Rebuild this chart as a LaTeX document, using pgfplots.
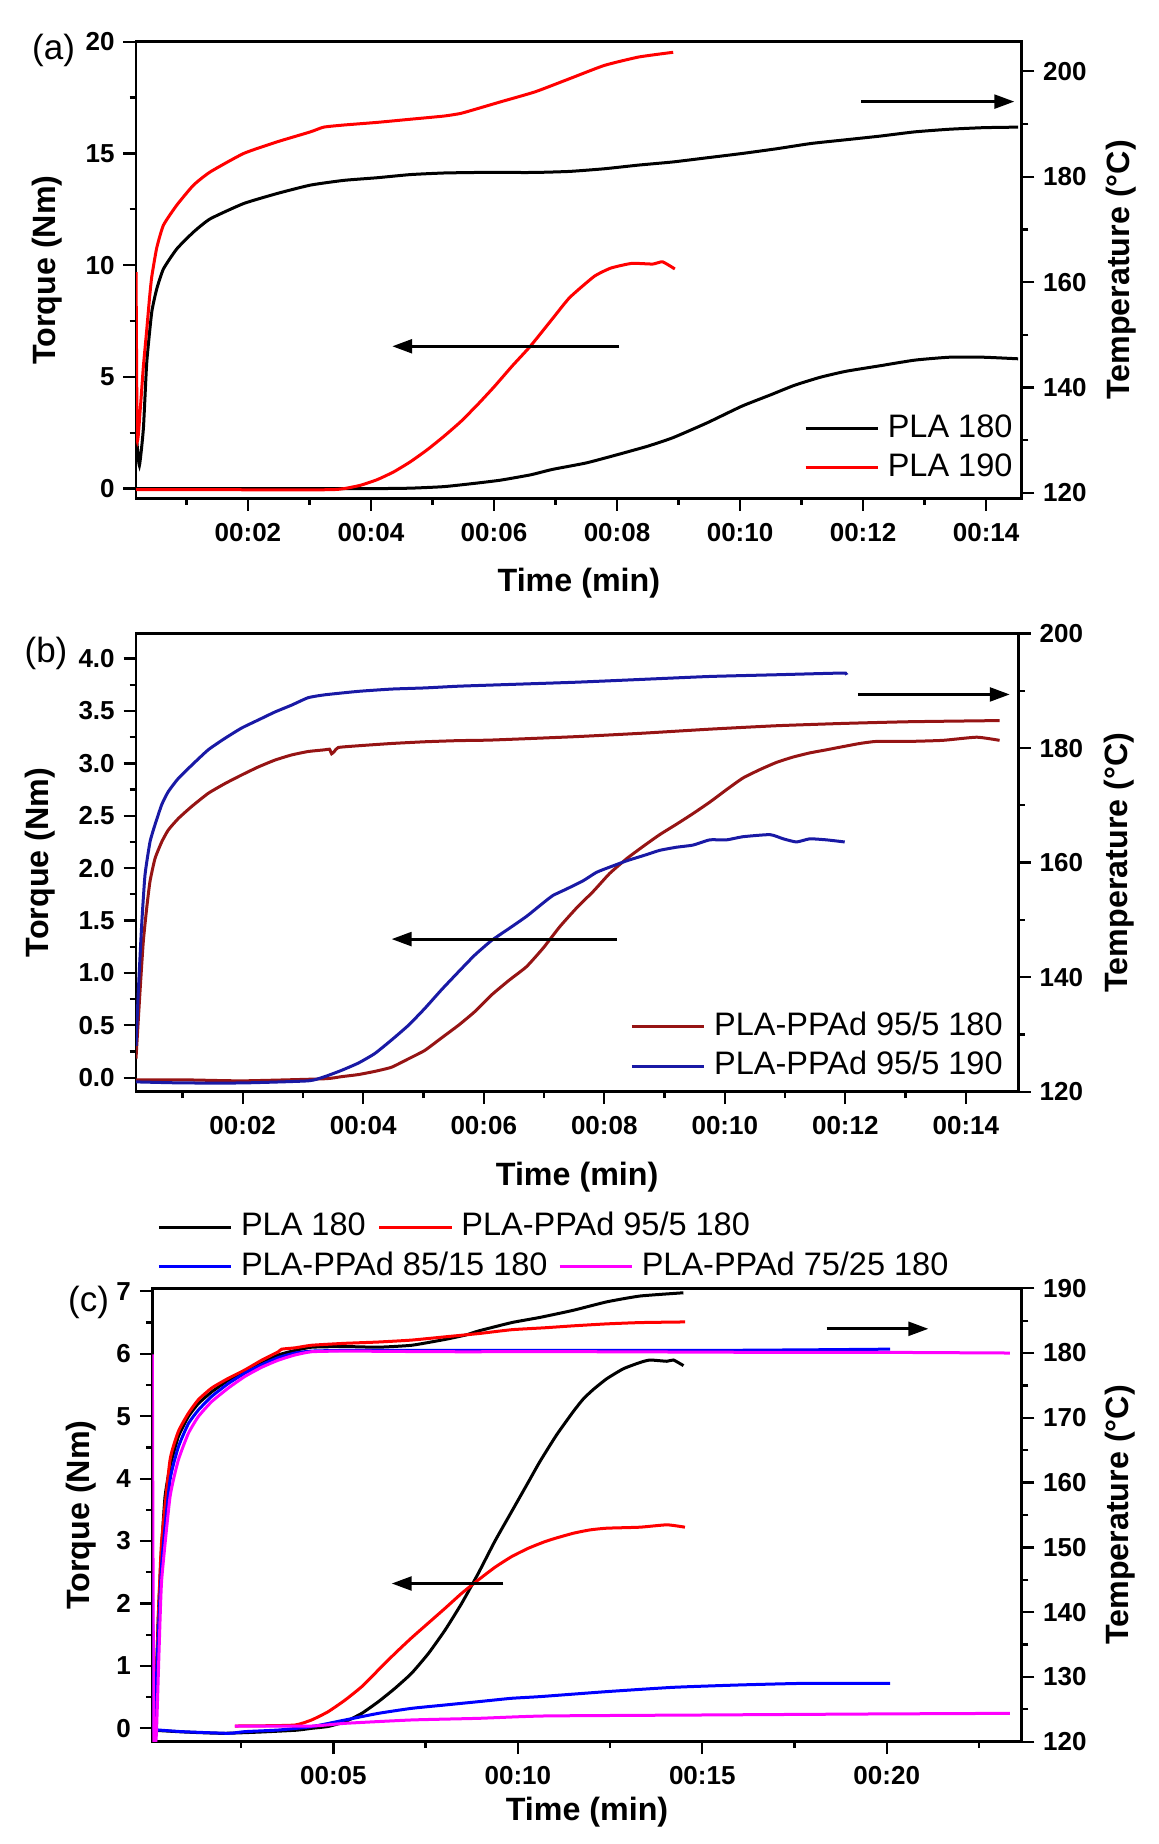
\documentclass[border=0pt]{standalone}
\usepackage{fontspec}
\setmainfont{Liberation Sans}
\usepackage{pgfplots}
\pgfplotsset{compat=1.18}
\usetikzlibrary{arrows.meta}

\definecolor{dred}{RGB}{150,20,20}
\definecolor{dblue}{RGB}{25,25,165}
\definecolor{cred}{RGB}{255,0,0}
\definecolor{cblue}{RGB}{0,0,255}
\definecolor{cmag}{RGB}{255,0,255}

\tikzset{arr/.style={line width=1.2pt, -{Triangle[length=8pt,width=5.5pt]}}}

\pgfplotsset{
  base/.style={
    scale only axis, clip mode=individual,
    axis line style={line width=1.1pt},
    tick style={black, line width=0.9pt},
    major tick length=5pt, minor tick length=2.6pt,
    tick align=outside,
    /pgf/number format/assume math mode=true,
    tick label style={font=\fontsize{10.4}{12}\selectfont\bfseries},
    label style={font=\fontsize{12.9}{15}\selectfont\bfseries},
    no markers,
    every axis plot/.append style={line width=1.2pt, smooth, tension=0.3},
    legend image code/.code={\draw[##1, sharp plot] (0pt,0pt) -- (29pt,0pt);},
    legend cell align=left,
    legend style={draw=none, fill=none, inner sep=0pt, outer sep=0pt,
      font=\fontsize{13}{15}\selectfont,
      nodes={inner sep=0pt, text height=9.4pt, text depth=2.6pt},
      row sep=3.7pt,
      /tikz/every odd column/.append style={column sep=3.3pt}},
  },
  leftax/.style={base, xtick pos=bottom, ytick pos=left},
  rightax/.style={base, hide x axis, axis y line*=right},
}

\begin{document}
\begin{tikzpicture}
\useasboundingbox (0,0) rectangle (463.2pt,737.6pt);

%================ (a) =================
\begin{axis}[leftax, at={(54.4pt,538.3pt)}, width=354.3pt, height=182.6pt,
  xmin=0.18, xmax=14.58, ymin=-0.43, ymax=20,
  xtick={2,4,6,8,10,12,14},
  xticklabels={00:02,00:04,00:06,00:08,00:10,00:12,00:14},
  minor xtick={1,3,5,7,9,11,13},
  ytick={0,5,10,15,20}, minor ytick={2.5,7.5,12.5,17.5},
  xlabel={Time (min)}, ylabel={Torque (Nm)},
  xlabel style={at={(axis description cs:0.5,-0.1855)}, anchor=center},
  ylabel style={at={(axis description cs:-0.1008,0.5)}, anchor=center},
  xticklabel style={yshift=-1.5pt},
  legend style={at={(0.9895,0.1855)}, anchor=north east}]
\addplot[black] coordinates {(0.18,0) (2,0) (4,0.0) (4.64,0.02) (5.19,0.09) (5.73,0.25) (6.11,0.38) (6.6,0.62) (6.95,0.86) (7.5,1.15) (8.02,1.53) (8.5,1.9) (8.91,2.28) (9.47,2.95) (10.03,3.69) (10.5,4.2) (10.88,4.62) (11.3,4.98) (11.72,5.25) (12.28,5.5) (12.84,5.75) (13.4,5.88) (13.96,5.88) (14.52,5.81)};
\addlegendentry{PLA 180}
\addplot[cred] coordinates {(0.18,-0.05) (1.5,-0.05) (3.29,-0.05) (3.56,0.0) (3.83,0.15) (4.1,0.4) (4.37,0.75) (4.64,1.2) (4.92,1.75) (5.19,2.35) (5.46,3.0) (5.73,3.75) (6.0,4.55) (6.3,5.5) (6.59,6.37) (6.95,7.6) (7.23,8.55) (7.63,9.5) (7.9,9.87) (8.24,10.08) (8.58,10.05) (8.74,10.15) (8.94,9.83)};
\addlegendentry{PLA 190}
\draw[arr] (axis cs:11.97,17.32) -- (axis cs:14.46,17.32);
\draw[arr] (axis cs:8.04,6.37) -- (axis cs:4.345,6.37);
\node[font=\fontsize{14}{16}\selectfont] at (axis description cs:-0.0931,0.9818) {(a)};
\end{axis}
\begin{axis}[rightax, at={(54.4pt,538.3pt)}, width=354.3pt, height=182.6pt,
  xmin=0.18, xmax=14.58, ymin=119.0, ymax=205.6,
  ytick={120,140,160,180,200}, minor ytick={130,150,170,190},
  ylabel={Temperature (°C)},
  ylabel style={at={(axis description cs:1.1121,0.5)}, anchor=center}]
\addplot[black] coordinates {(0.19,130.3) (0.235,125.2) (0.30,132.2) (0.355,144.8) (0.436,154.3) (0.517,158.7) (0.626,162.5) (0.843,166.3) (1.115,169.5) (1.386,172.0) (1.929,174.9) (2.472,176.8) (3.015,178.4) (3.558,179.3) (4.1,179.8) (4.643,180.4) (5.186,180.7) (5.729,180.8) (6.108,180.8) (6.669,180.8) (7.231,181.0) (7.792,181.5) (8.352,182.2) (8.913,182.8) (9.474,183.6) (10.034,184.4) (10.596,185.3) (11.156,186.3) (11.718,187.0) (12.278,187.7) (12.839,188.5) (13.401,189.0) (13.961,189.3) (14.52,189.4)};
\addplot[cred] coordinates {(0.181,161.9) (0.20,130.3) (0.25,136) (0.30,144) (0.355,151) (0.40,157) (0.436,161) (0.517,166.5) (0.626,170.8) (0.843,174.6) (1.115,178.4) (1.386,180.9) (1.929,184.4) (2.472,186.6) (3.015,188.5) (3.232,189.4) (3.558,189.8) (4.1,190.3) (4.643,190.9) (5.186,191.5) (5.458,192.0) (5.729,192.9) (6.108,194.2) (6.669,196.1) (7.231,198.6) (7.792,201.1) (8.352,202.7) (8.913,203.6)};
\end{axis}

%================ (b) =================
\begin{axis}[leftax, at={(54.4pt,300.9pt)}, width=352.9pt, height=183.3pt,
  xmin=0.229, xmax=14.87, ymin=-0.134, ymax=4.24,
  xtick={2,4,6,8,10,12,14},
  xticklabels={00:02,00:04,00:06,00:08,00:10,00:12,00:14},
  minor xtick={1,3,5,7,9,11,13},
  ytick={0,0.5,1,1.5,2,2.5,3,3.5,4},
  minor ytick={0.25,0.75,1.25,1.75,2.25,2.75,3.25,3.75},
  yticklabel style={/pgf/number format/.cd, fixed, fixed zerofill, precision=1},
  xlabel={Time (min)}, ylabel={Torque (Nm)},
  xlabel style={at={(axis description cs:0.5,-0.1868)}, anchor=center},
  ylabel style={at={(axis description cs:-0.1081,0.5)}, anchor=center},
  xticklabel style={yshift=-1.5pt},
  legend style={at={(0.9823,0.1742)}, anchor=north east}]
\addplot[dred] coordinates {(0.229,-0.02) (1,-0.02) (2,-0.03) (3.36,-0.01) (3.64,0.01) (3.92,0.03) (4.19,0.06) (4.47,0.10) (4.75,0.18) (5.02,0.26) (5.3,0.38) (5.58,0.50) (5.85,0.63) (6.13,0.79) (6.42,0.93) (6.71,1.06) (6.99,1.24) (7.26,1.44) (7.54,1.62) (7.82,1.78) (8.09,1.95) (8.37,2.09) (8.65,2.21) (8.92,2.32) (9.2,2.42) (9.47,2.52) (9.75,2.63) (10.03,2.75) (10.3,2.86) (10.58,2.94) (10.86,3.01) (11.13,3.06) (11.41,3.1) (11.69,3.13) (11.96,3.16) (12.24,3.19) (12.52,3.21) (13.07,3.21) (13.62,3.22) (14.18,3.25) (14.56,3.22)};
\addlegendentry{PLA-PPAd 95/5 180}
\addplot[dblue] coordinates {(0.229,-0.04) (1,-0.05) (2,-0.05) (3.09,-0.03) (3.36,0.01) (3.64,0.07) (3.92,0.14) (4.19,0.23) (4.47,0.36) (4.75,0.5) (5.02,0.66) (5.3,0.84) (5.58,1.01) (5.85,1.17) (6.13,1.31) (6.41,1.42) (6.71,1.54) (6.99,1.67) (7.15,1.74) (7.37,1.8) (7.65,1.88) (7.87,1.96) (8.09,2.01) (8.37,2.07) (8.65,2.12) (8.92,2.17) (9.2,2.2) (9.47,2.22) (9.75,2.27) (10.03,2.27) (10.3,2.3) (10.75,2.32) (10.97,2.28) (11.19,2.25) (11.41,2.28) (11.69,2.27) (11.99,2.25)};
\addlegendentry{PLA-PPAd 95/5 190}
\draw[arr] (axis cs:12.21,3.658) -- (axis cs:14.73,3.658);
\draw[arr] (axis cs:8.21,1.323) -- (axis cs:4.47,1.323);
\node[font=\fontsize{14}{16}\selectfont] at (axis description cs:-0.102,0.9574) {(b)};
\end{axis}
\begin{axis}[rightax, at={(54.4pt,300.9pt)}, width=352.9pt, height=183.3pt,
  xmin=0.229, xmax=14.87, ymin=120, ymax=200,
  ytick={120,140,160,180,200}, minor ytick={130,150,170,190},
  ylabel={Temperature (°C)},
  ylabel style={at={(axis description cs:1.1141,0.5)}, anchor=center}]
\addplot[dred] coordinates {(0.229,125.8) (0.295,137.4) (0.35,146.2) (0.406,152.0) (0.461,156.7) (0.544,160.7) (0.655,163.6) (0.765,165.7) (0.931,167.7) (1.153,169.8) (1.428,172.1) (1.705,173.8) (1.982,175.3) (2.258,176.7) (2.535,177.9) (2.812,178.8) (3.087,179.4) (3.364,179.7) (3.44,179.8) (3.475,179.0) (3.52,179.4) (3.586,180.1) (3.917,180.4) (4.471,180.8) (5.023,181.1) (5.576,181.3) (6.13,181.4) (7.54,182.0) (8.645,182.6) (9.75,183.3) (10.86,183.9) (11.96,184.3) (13.07,184.6) (14.56,184.8)};
\addplot[dblue] coordinates {(0.229,128) (0.267,137.4) (0.323,149.1) (0.378,157.8) (0.461,163.6) (0.544,166.6) (0.655,170.1) (0.765,172.4) (0.931,174.7) (1.153,177.0) (1.428,179.7) (1.705,181.7) (1.982,183.5) (2.258,184.9) (2.535,186.3) (2.812,187.5) (3.087,188.8) (3.364,189.3) (3.917,189.9) (4.471,190.3) (5.023,190.5) (5.576,190.8) (6.13,191.0) (7.54,191.5) (8.645,192.0) (9.75,192.5) (10.86,192.8) (11.96,193.1) (11.99,192.9)};
\end{axis}

%================ (c) =================
\begin{axis}[leftax, at={(60.9pt,40.9pt)}, width=347.8pt, height=181.4pt,
  xmin=0.09, xmax=23.66, ymin=-0.215, ymax=7.05,
  xtick={5,10,15,20},
  xticklabels={00:05,00:10,00:15,00:20},
  minor xtick={2.5,7.5,12.5,17.5,22.5},
  ytick={0,1,2,3,4,5,6,7}, minor ytick={0.5,1.5,2.5,3.5,4.5,5.5,6.5},
  xlabel={Time (min)}, ylabel={Torque (Nm)},
  xlabel style={at={(axis description cs:0.5,-0.1548)}, anchor=center},
  ylabel style={at={(axis description cs:-0.0818,0.5)}, anchor=center},
  xticklabel style={yshift=-1.5pt},
  legend columns=2,
  legend style={at={(0.00575,1.167)}, anchor=north west,
    /tikz/every even column/.append style={column sep=4.8pt}}]
\addplot[black] coordinates {(0.1,-0.03) (1.0,-0.06) (2.0,-0.08) (3.0,-0.06) (4.0,-0.03) (4.41,0.0) (4.86,0.03) (5.32,0.107) (5.77,0.24) (6.22,0.427) (6.67,0.641) (7.12,0.882) (7.58,1.202) (8.03,1.576) (8.48,2.004) (8.93,2.485) (9.38,3.0) (9.83,3.47) (10.29,3.95) (10.6,4.275) (11.05,4.7) (11.51,5.08) (11.78,5.28) (12.05,5.43) (12.41,5.6) (12.86,5.76) (13.31,5.86) (13.58,5.9) (14.04,5.88) (14.22,5.9) (14.49,5.81)};
\addlegendentry{PLA 180}
\addplot[cred] coordinates {(2.33,0.037) (3.0,0.04) (3.96,0.053) (4.41,0.134) (4.86,0.267) (5.32,0.454) (5.77,0.668) (6.22,0.935) (6.67,1.2) (7.12,1.45) (7.58,1.69) (8.03,1.924) (8.48,2.164) (8.93,2.378) (9.38,2.58) (9.83,2.75) (10.29,2.886) (10.74,2.992) (11.05,3.05) (11.51,3.126) (11.96,3.179) (12.41,3.206) (13.31,3.222) (14.04,3.26) (14.53,3.222)};
\addlegendentry{PLA-PPAd 95/5 180}
\addplot[cblue, forget plot] coordinates {(0.1,-0.02) (0.89,-0.053) (2.15,-0.08) (2.6,-0.053) (3.51,-0.027) (4.41,0.027) (5.32,0.134) (6.22,0.24) (7.12,0.32) (8.03,0.374) (8.93,0.427) (9.83,0.481) (10.6,0.508) (12.41,0.588) (14.22,0.657) (16.02,0.695) (17.83,0.721) (20.09,0.721)};
\addplot[cmag, forget plot] coordinates {(2.33,0.037) (4.41,0.037) (5.32,0.08) (7.12,0.134) (8.93,0.16) (10.74,0.198) (15.12,0.214) (19.64,0.23) (23.34,0.24)};
\draw[arr] (axis cs:18.37,6.40) -- (axis cs:21.13,6.40);
\draw[arr] (axis cs:9.61,2.32) -- (axis cs:6.58,2.32);
\node[font=\fontsize{14}{16}\selectfont] at (axis description cs:-0.0732,0.9687) {(c)};
\end{axis}
\begin{axis}[rightax, at={(60.9pt,40.9pt)}, width=347.8pt, height=181.4pt,
  xmin=0.09, xmax=23.66, ymin=120, ymax=190,
  ytick={120,130,140,150,160,170,180,190},
  minor ytick={125,135,145,155,165,175,185},
  ylabel={Temperature (°C)},
  ylabel style={at={(axis description cs:1.1134,0.5)}, anchor=center},
  legend columns=2,
  legend style={at={(0.00575,1.081)}, anchor=north west,
    /tikz/every even column/.append style={column sep=4.2pt}}]
\addplot[black, forget plot] coordinates {(0.12,121.5) (0.2,130) (0.256,139.8) (0.346,150.1) (0.436,157.8) (0.572,162.5) (0.798,167.1) (1.069,170.2) (1.34,172.2) (1.701,174.0) (2.153,175.8) (2.605,177.1) (3.057,178.4) (3.508,179.7) (3.96,180.4) (4.412,180.9) (5.316,181.0) (6.22,180.9) (7.123,181.2) (8.027,182.1) (8.6,182.8) (8.93,183.4) (9.834,184.7) (10.6,185.5) (11.506,186.6) (12.41,187.9) (13.313,188.8) (14.488,189.3)};
\addplot[cred, forget plot] coordinates {(0.14,122) (0.22,133) (0.28,143) (0.346,151.1) (0.572,163.5) (0.798,167.9) (1.069,170.7) (1.34,172.8) (1.701,174.6) (2.153,176.1) (2.605,177.4) (3.057,178.9) (3.508,180.2) (3.599,180.6) (3.96,180.8) (4.412,181.2) (5.316,181.5) (6.22,181.7) (7.123,182.0) (8.027,182.5) (8.93,183.0) (9.834,183.6) (10.737,183.9) (11.506,184.2) (12.41,184.5) (13.313,184.7) (14.533,184.8)};
\addplot[cblue] coordinates {(0.09,146) (0.14,121) (0.22,132) (0.346,147.5) (0.572,160.4) (0.798,165.5) (1.069,169.1) (1.34,171.2) (1.701,173.3) (2.153,175.3) (2.605,176.9) (3.057,178.2) (3.508,179.3) (3.96,180.0) (4.412,180.3) (5.316,180.4) (8,180.4) (12,180.4) (15.12,180.4) (18,180.5) (20.09,180.6)};
\addlegendentry{PLA-PPAd 85/15 180}
\addplot[cmag] coordinates {(0.093,179.8) (0.13,120.5) (0.2,121) (0.28,135) (0.346,145.0) (0.572,157.8) (0.798,163.5) (1.069,167.6) (1.34,170.2) (1.701,172.5) (2.153,174.6) (2.605,176.4) (3.057,177.8) (3.508,178.9) (3.96,179.7) (4.412,180.2) (5.316,180.3) (8,180.2) (12,180.2) (16.93,180.1) (20,180.1) (23.34,180.0)};
\addlegendentry{PLA-PPAd 75/25 180}
\end{axis}
\end{tikzpicture}
\end{document}
